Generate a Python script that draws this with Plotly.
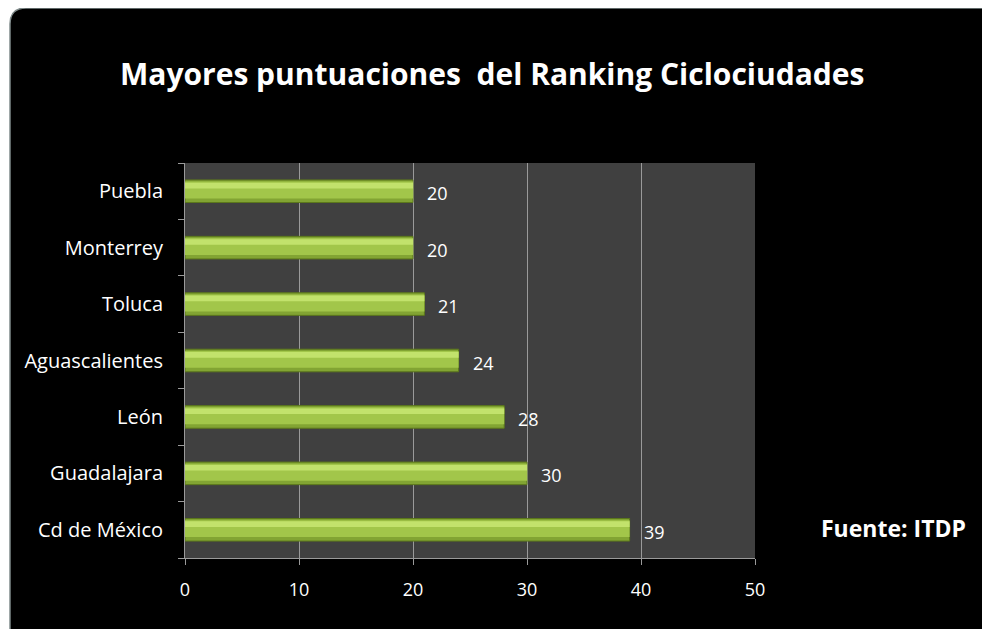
import plotly.graph_objects as go

categories = ["Cd de México", "Guadalajara", "León", "Aguascalientes", "Toluca", "Monterrey", "Puebla"]
scores = [39, 30, 28, 24, 21, 20, 20]
x_ticks = [0, 10, 20, 30, 40, 50]

# the page body adds an 8px offset; work in target-pixel coordinates shifted by it
OFF = 8
W, H = 990 - OFF, 629 - OFF
L, R, T, B = 185 - OFF, 235, 163 - OFF, 71
PW, PH = W - L - R, H - T - B
FONT = "Open Sans"

def px(x):
    return (x - OFF - L) / PW

def py(y):
    return 1 - (y - OFF - T) / PH

fig = go.Figure()

fig.add_trace(go.Bar(
    y=categories, x=scores, orientation="h", width=0.4,
    marker=dict(color="#82a433", line=dict(color="#5c781c", width=1)),
    hoverinfo="x+y", showlegend=False,
))
fig.add_trace(go.Bar(
    y=categories, x=scores, orientation="h", width=0.3, offset=-0.13,
    marker=dict(color="#a2c64a", line=dict(width=0)),
    hoverinfo="skip", showlegend=False,
))
fig.add_trace(go.Bar(
    y=categories, x=scores, orientation="h", width=0.1, offset=0.05,
    marker=dict(color="#c2e26c", line=dict(width=0)),
    hoverinfo="skip", showlegend=False,
))

for c, v in zip(categories, scores):
    fig.add_annotation(x=v, y=c, text=str(v), showarrow=False, xanchor="left",
                       xshift=12, yshift=-2, font=dict(color="white", size=18, family=FONT))

# rounded black panel: white outside via even-odd path
x0, y0, x1, y1, r = 10, 8, 1005, 645, 16
def rr(x0, y0, x1, y1, r):
    return (f"M{px(x0+r)},{py(y0)} L{px(x1-r)},{py(y0)} Q{px(x1)},{py(y0)} {px(x1)},{py(y0+r)} "
            f"L{px(x1)},{py(y1-r)} Q{px(x1)},{py(y1)} {px(x1-r)},{py(y1)} "
            f"L{px(x0+r)},{py(y1)} Q{px(x0)},{py(y1)} {px(x0)},{py(y1-r)} "
            f"L{px(x0)},{py(y0+r)} Q{px(x0)},{py(y0)} {px(x0+r)},{py(y0)} Z")
outer = f"M{px(-20)},{py(-20)} L{px(1020)},{py(-20)} L{px(1020)},{py(660)} L{px(-20)},{py(660)} Z "
fig.add_shape(type="path", xref="paper", yref="paper", path=outer + rr(x0, y0, x1, y1, r),
              fillcolor="white", fillrule="evenodd", line=dict(width=0), layer="above")
fig.add_shape(type="path", xref="paper", yref="paper", path=rr(x0, y0, x1, y1, r),
              fillcolor="rgba(0,0,0,0)", line=dict(color="#7f8a8a", width=1.5), layer="above")

fig.add_annotation(xref="paper", yref="paper", x=px(492), y=py(74),
                   text="<b>Mayores puntuaciones  del Ranking Ciclociudades</b>",
                   showarrow=False, xanchor="center", yanchor="middle",
                   font=dict(color="white", size=30, family=FONT))
fig.add_annotation(xref="paper", yref="paper", x=px(893), y=py(528), text="<b>Fuente: ITDP</b>",
                   showarrow=False, xanchor="center", yanchor="middle",
                   font=dict(color="white", size=23, family=FONT))

fig.update_layout(
    width=W, height=H, margin=dict(l=L, r=R, t=T, b=B),
    paper_bgcolor="black", plot_bgcolor="#404040",
    barmode="overlay", bargap=0.6, showlegend=False,
    font=dict(family=FONT, color="white", size=18),
)
fig.update_xaxes(range=[0, 50], tickvals=x_ticks, showgrid=True, gridcolor="#9a9a9a", gridwidth=1,
                 showline=True, linecolor="#9a9a9a", linewidth=1, ticks="outside", ticklen=6,
                 tickcolor="#9a9a9a", zeroline=False, ticklabelstandoff=9,
                 tickfont=dict(color="white", size=18, family=FONT), fixedrange=True)
fig.update_yaxes(type="category", categoryorder="array", categoryarray=categories,
                 showline=True, linecolor="#9a9a9a", linewidth=1, ticks="outside", ticklen=6,
                 tickcolor="#9a9a9a", tickson="boundaries", showgrid=False, ticklabelstandoff=17,
                 tickfont=dict(color="white", size=20, family=FONT), fixedrange=True)

fig.write_html("out.html")
